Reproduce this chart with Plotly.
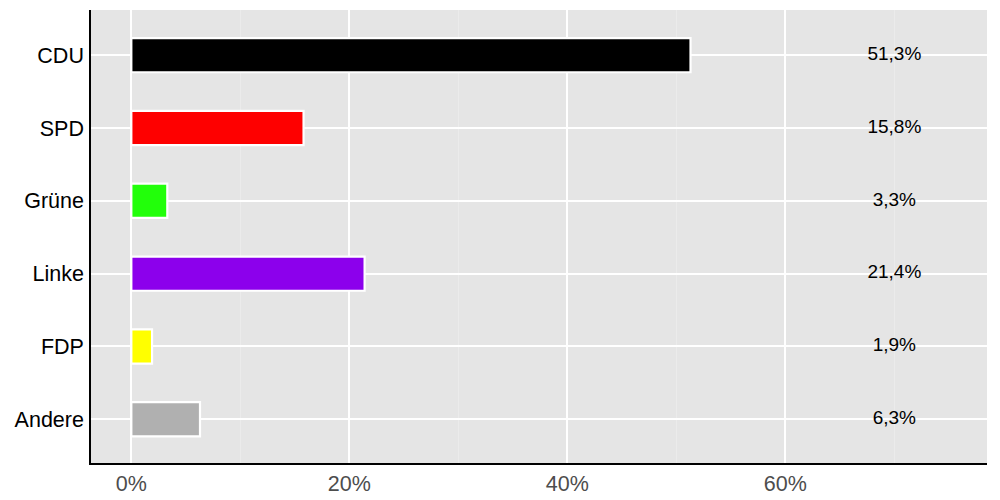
import plotly.graph_objects as go

# Stimmanteile in Prozent
parteien = ["CDU", "SPD", "Grüne", "Linke", "FDP", "Andere"]
anteile = [51.3, 15.8, 3.3, 21.4, 1.9, 6.3]
farben = ["#000000", "#fe0000", "#22ff0a", "#8c00ec", "#ffff00", "#b0b0b0"]
beschriftungen = ["51,3%", "15,8%", "3,3%", "21,4%", "1,9%", "6,3%"]
label_pos = 70

x_ticks = [0, 20, 40, 60]
x_ticktext = ["0%", "20%", "40%", "60%"]

schrift = "Liberation Sans, Arial, sans-serif"

fig = go.Figure()

fig.add_trace(go.Bar(
    y=parteien,
    x=anteile,
    orientation='h',
    width=0.47,
    marker=dict(color=farben, line=dict(color='white', width=2.2)),
    hoverinfo='x+y',
    showlegend=False
))

fig.add_trace(go.Scatter(
    y=parteien,
    x=[label_pos] * len(parteien),
    mode='text',
    text=beschriftungen,
    textposition='middle center',
    textfont=dict(family=schrift, size=19, color='black'),
    showlegend=False,
    hoverinfo='skip'
))

# page body has an 8px margin, so the figure is shrunk by that amount
fig.update_layout(
    width=992,
    height=492,
    margin=dict(l=83, r=13, t=2, b=37),
    plot_bgcolor='#e5e5e5',
    paper_bgcolor='white',
    font=dict(family=schrift),
    xaxis=dict(
        range=[-3.7, 78.5],
        tickvals=x_ticks,
        ticktext=x_ticktext,
        tickfont=dict(size=21.5, color='#4d4d4d'),
        gridcolor='white',
        gridwidth=1.5,
        zeroline=False,
        showline=True,
        linecolor='black',
        linewidth=1.5,
        ticks='',
        automargin=False,
        minor=dict(tickvals=[10, 30, 50, 70], gridcolor='#ebebeb', gridwidth=1, showgrid=True),
    ),
    yaxis=dict(
        categoryorder='array',
        categoryarray=parteien[::-1],
        range=[-0.6, 5.62],
        tickfont=dict(size=21.5, color='black'),
        gridcolor='white',
        gridwidth=1.5,
        zeroline=False,
        showline=True,
        linecolor='black',
        linewidth=1.5,
        ticks='',
        ticklabelstandoff=1,
        automargin=False,
    ),
)

fig.write_html("out.html")
